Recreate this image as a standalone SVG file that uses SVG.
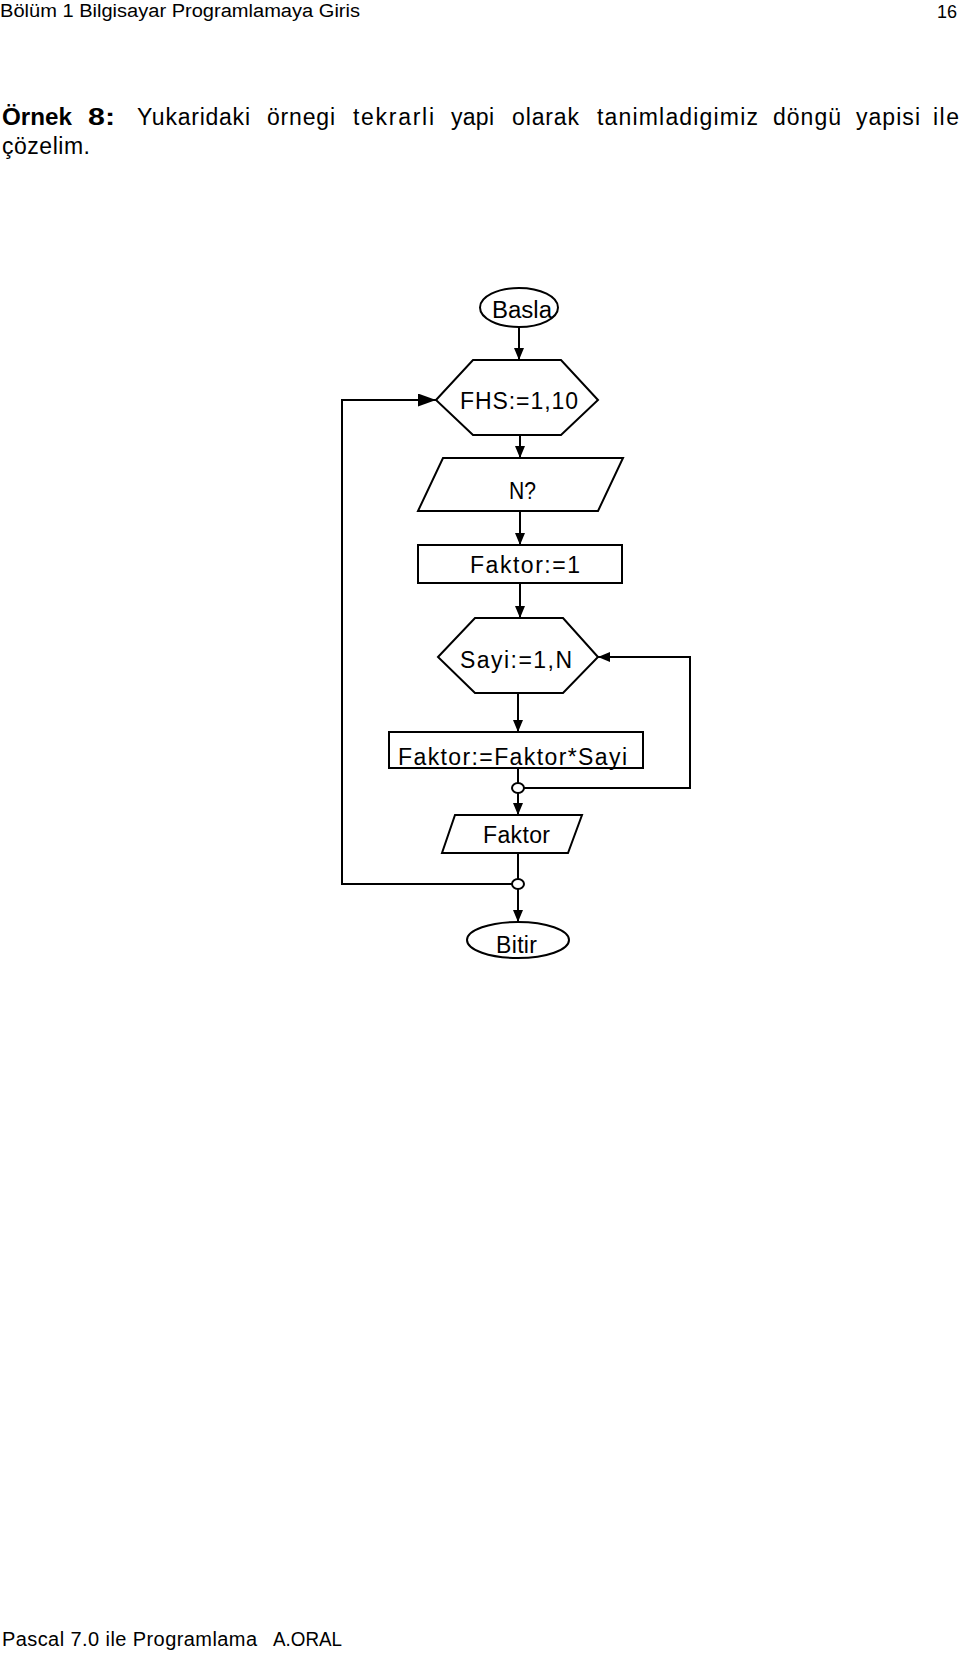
<svg xmlns="http://www.w3.org/2000/svg" width="960" height="1655" viewBox="0 0 960 1655">
<style>
text{font-family:"Liberation Sans",Arial,sans-serif;fill:#000}
.hd{font-size:18px}
.p{font-size:23px}
.b{font-weight:bold}
.lbl{font-size:23px}
.ft{font-size:20px}
.shape{fill:#fff;stroke:#000;stroke-width:2}
.ln{fill:none;stroke:#000;stroke-width:2}
</style>
<defs>
<marker id="arr" markerUnits="userSpaceOnUse" markerWidth="12" markerHeight="10" refX="12" refY="5" orient="auto">
<path d="M0,0 L12,5 L0,10 z" fill="#000"/>
</marker>
<marker id="arrBig" markerUnits="userSpaceOnUse" markerWidth="18" markerHeight="13" refX="18" refY="6.5" orient="auto">
<path d="M0,0 L18,6.5 L0,13 z" fill="#000"/>
</marker>
</defs>
<rect width="960" height="1655" fill="#fff"/>
<g id="header">
<text class="hd" x="0" y="17" textLength="360" lengthAdjust="spacingAndGlyphs">Bölüm 1 Bilgisayar Programlamaya Giris</text>
<text class="hd" x="957" y="18" text-anchor="end" style="font-size:18px">16</text>
</g>
<g id="intro">
<text class="p b" x="2" y="125" textLength="70" lengthAdjust="spacingAndGlyphs">Örnek</text>
<text class="p b" x="88" y="125" textLength="27" lengthAdjust="spacingAndGlyphs">8:</text>
<text class="p" x="137" y="125" textLength="113" lengthAdjust="spacing">Yukaridaki</text>
<text class="p" x="267" y="125" textLength="68" lengthAdjust="spacing">örnegi</text>
<text class="p" x="353" y="125" textLength="81" lengthAdjust="spacing">tekrarli</text>
<text class="p" x="451" y="125" textLength="43" lengthAdjust="spacing">yapi</text>
<text class="p" x="512" y="125" textLength="67" lengthAdjust="spacing">olarak</text>
<text class="p" x="597" y="125" textLength="161" lengthAdjust="spacing">tanimladigimiz</text>
<text class="p" x="773" y="125" textLength="68" lengthAdjust="spacing">döngü</text>
<text class="p" x="856" y="125" textLength="64" lengthAdjust="spacing">yapisi</text>
<text class="p" x="933" y="125" textLength="26" lengthAdjust="spacing">ile</text>
<text class="p" x="2" y="154" textLength="88" lengthAdjust="spacing">çözelim.</text>
</g>
<g id="connectors">
<path class="ln" d="M519,327 V360" marker-end="url(#arr)"/>
<path class="ln" d="M520,435 V458" marker-end="url(#arr)"/>
<path class="ln" d="M520,511 V545" marker-end="url(#arr)"/>
<path class="ln" d="M520,583 V618" marker-end="url(#arr)"/>
<path class="ln" d="M518,693 V732" marker-end="url(#arr)"/>
<path class="ln" d="M518,768 V783"/>
<path class="ln" d="M518,793 V815" marker-end="url(#arr)"/>
<path class="ln" d="M524,788 H690 V657 H598" marker-end="url(#arr)"/>
<path class="ln" d="M518,853 V879"/>
<path class="ln" d="M512,884 H342 V400 H436" marker-end="url(#arrBig)"/>
<path class="ln" d="M518,889 V922" marker-end="url(#arr)"/>
</g>
<g id="basla">
<ellipse class="shape" cx="519" cy="307.5" rx="39" ry="19.5"/>
<text class="lbl" x="492" y="318" textLength="60" lengthAdjust="spacingAndGlyphs">Basla</text>
</g>
<g id="fhs">
<polygon class="shape" points="436,400 473,360 561,360 598,400 561,435 473,435"/>
<text class="lbl" x="460" y="409" textLength="118" lengthAdjust="spacing">FHS:=1,10</text>
</g>
<g id="input-n">
<polygon class="shape" points="443,458 623,458 598,511 418,511"/>
<text class="lbl" x="509" y="499" textLength="27" lengthAdjust="spacingAndGlyphs">N?</text>
</g>
<g id="faktor-init">
<rect class="shape" x="418" y="545" width="204" height="38"/>
<text class="lbl" x="470" y="573" textLength="110" lengthAdjust="spacing">Faktor:=1</text>
</g>
<g id="sayi">
<polygon class="shape" points="438,657 475,618 563,618 598,657 563,693 475,693"/>
<text class="lbl" x="460" y="668" textLength="112" lengthAdjust="spacing">Sayi:=1,N</text>
</g>
<g id="faktor-mul">
<rect class="shape" x="389" y="732" width="254" height="36"/>
<text class="lbl" x="398" y="765" textLength="229" lengthAdjust="spacing">Faktor:=Faktor*Sayi</text>
</g>
<g id="junction1">
<ellipse class="shape" cx="518" cy="788" rx="6" ry="5"/>
</g>
<g id="output-faktor">
<polygon class="shape" points="455,815 582,815 568,853 442,853"/>
<text class="lbl" x="483" y="843" textLength="67" lengthAdjust="spacing">Faktor</text>
</g>
<g id="junction2">
<ellipse class="shape" cx="518" cy="884" rx="6" ry="5"/>
</g>
<g id="bitir">
<ellipse class="shape" cx="518" cy="940" rx="51" ry="18"/>
<text class="lbl" x="496" y="953" textLength="41" lengthAdjust="spacing">Bitir</text>
</g>
<g id="footer">
<text class="ft" x="2" y="1646" textLength="255" lengthAdjust="spacing">Pascal 7.0 ile Programlama</text>
<text class="ft" x="273" y="1646" textLength="69" lengthAdjust="spacingAndGlyphs">A.ORAL</text>
</g>
</svg>
